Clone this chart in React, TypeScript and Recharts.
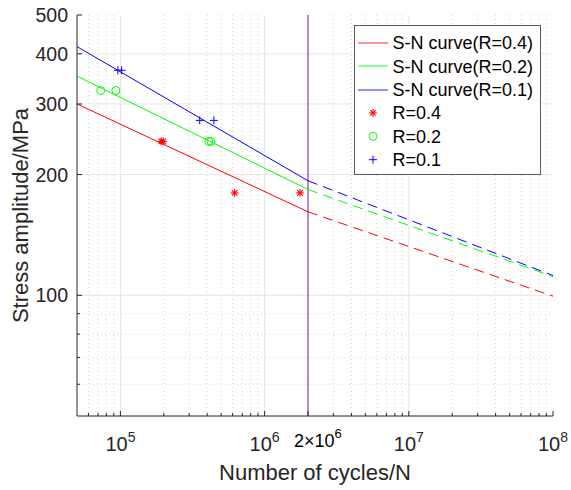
import React from 'react';
import { ComposedChart, Line, Scatter, XAxis, YAxis, ReferenceLine, Legend, Label } from 'recharts';

const X_DOMAIN = [5e4, 1e8];
const Y_DOMAIN = [50, 500];
const X_MAJOR_TICKS = [1e5, 1e6, 2e6, 1e7, 1e8];
const X_MAJOR_LABELS = [['10', '5'], ['10', '6'], ['2×10', '6'], ['10', '7'], ['10', '8']];
const X_MINOR_TICKS = [6e4, 7e4, 8e4, 9e4, 2e5, 3e5, 4e5, 5e5, 6e5, 7e5, 8e5, 9e5, 3e6, 4e6, 5e6, 6e6, 7e6, 8e6, 9e6, 2e7, 3e7, 4e7, 5e7, 6e7, 7e7, 8e7, 9e7];
const Y_MAJOR_TICKS = [100, 200, 300, 400, 500];
const Y_MINOR_TICKS = [60, 70, 80, 90];
const X_GRID_MAJOR = [1e5, 1e6, 1e7];
const X_GRID_MINOR = X_MINOR_TICKS;
const Y_GRID_MAJOR = [100, 200, 300, 400];
const Y_GRID_MINOR = [60, 70, 80, 90];
const FATIGUE_LIMIT_N = 2e6;

const curveR04Solid = [{ x: 5e4, y: 300 }, { x: 2e6, y: 161.5 }];
const curveR04Dashed = [{ x: 2e6, y: 161.5 }, { x: 1e8, y: 99.5 }];
const curveR02Solid = [{ x: 5e4, y: 352 }, { x: 2e6, y: 183.6 }];
const curveR02Dashed = [{ x: 2e6, y: 183.6 }, { x: 1e8, y: 111.3 }];
const curveR01Solid = [{ x: 5e4, y: 417 }, { x: 2e6, y: 193 }];
const curveR01Dashed = [{ x: 2e6, y: 193 }, { x: 1e8, y: 112 }];

const testR04 = [{ x: 1.92e5, y: 242 }, { x: 1.98e5, y: 242 }, { x: 6.2e5, y: 180 }, { x: 1.76e6, y: 180 }];
const testR02 = [{ x: 7.3e4, y: 324 }, { x: 9.3e4, y: 324 }, { x: 4.1e5, y: 242 }, { x: 4.25e5, y: 242 }];
const testR01 = [{ x: 9.6e4, y: 364 }, { x: 1.02e5, y: 364 }, { x: 3.55e5, y: 273 }, { x: 4.45e5, y: 273 }];

const LEGEND_LABELS = ['S-N curve(R=0.4)', 'S-N curve(R=0.2)', 'S-N curve(R=0.1)', 'R=0.4', 'R=0.2', 'R=0.1'];

const RED = '#ff0000';
const GREEN = '#00ff00';
const BLUE = '#0000ff';
const PURPLE = '#9933b3';
const AX = '#262626';
const FONT = '"Liberation Sans", Arial, sans-serif';

const X_TICKS = [...X_MINOR_TICKS, ...X_MAJOR_TICKS].sort((a, b) => a - b);
const Y_TICKS = [...Y_MINOR_TICKS, ...Y_MAJOR_TICKS].sort((a, b) => a - b);

const StarShape = (p: any) => {
  const { cx, cy } = p;
  const s = 3.8, d = 2.8;
  return (
    <g stroke={RED} strokeWidth={1.1}>
      <line x1={cx - s} x2={cx + s} y1={cy} y2={cy} />
      <line x1={cx} x2={cx} y1={cy - s} y2={cy + s} />
      <line x1={cx - d} x2={cx + d} y1={cy - d} y2={cy + d} />
      <line x1={cx - d} x2={cx + d} y1={cy + d} y2={cy - d} />
    </g>
  );
};
const CircleShape = (p: any) => <circle cx={p.cx} cy={p.cy} r={4} fill="none" stroke={GREEN} strokeWidth={1} />;
const PlusShape = (p: any) => {
  const { cx, cy } = p;
  const s = 4;
  return (
    <g stroke={BLUE} strokeWidth={1}>
      <line x1={cx - s} x2={cx + s} y1={cy} y2={cy} />
      <line x1={cx} x2={cx} y1={cy - s} y2={cy + s} />
    </g>
  );
};

const BottomTick = (props: any) => {
  const { x, y, payload } = props;
  const idx = X_MAJOR_TICKS.indexOf(payload.value);
  const major = idx >= 0;
  const len = major ? 5 : 3;
  let label = null;
  if (major) {
    const [base, exp] = X_MAJOR_LABELS[idx];
    if (base === '10') {
      label = (
        <text x={x} y={y + 35} textAnchor="middle" fill={AX} fontFamily={FONT}>
          <tspan fontSize={20}>{base}</tspan>
          <tspan fontSize={14} dy={-9}>{exp}</tspan>
        </text>
      );
    } else {
      label = (
        <text x={x - 14} y={y + 30.5} textAnchor="start" fill="#000" fontFamily={FONT}>
          <tspan fontSize={18}>{base}</tspan>
          <tspan fontSize={13} dy={-8.5}>{exp}</tspan>
        </text>
      );
    }
  }
  return (
    <g>
      <line x1={x} x2={x} y1={y} y2={y - len} stroke={AX} strokeWidth={1} />
      {label}
    </g>
  );
};

const TopTick = (props: any) => {
  const { x, y, payload } = props;
  const len = X_MAJOR_TICKS.indexOf(payload.value) >= 0 ? 5 : 3;
  return <line x1={x} x2={x} y1={y} y2={y + len} stroke={AX} strokeWidth={1} />;
};

const LeftTick = (props: any) => {
  const { x, y, payload } = props;
  const major = Y_MAJOR_TICKS.indexOf(payload.value) >= 0;
  const len = major ? 5 : 3;
  return (
    <g>
      <line x1={x} x2={x + len} y1={y} y2={y} stroke={AX} strokeWidth={1} />
      {major && (
        <text x={x - 9} y={y + 7} textAnchor="end" fontSize={19.5} fill={AX} fontFamily={FONT}>
          {payload.value}
        </text>
      )}
    </g>
  );
};

const RightTick = (props: any) => {
  const { x, y, payload } = props;
  const len = Y_MAJOR_TICKS.indexOf(payload.value) >= 0 ? 5 : 3;
  return <line x1={x} x2={x - len} y1={y} y2={y} stroke={AX} strokeWidth={1} />;
};

const LegendBox = () => {
  const rowY = (i: number) => 17.7 + i * 23.4;
  const colors = [RED, GREEN, BLUE];
  const shapes = [StarShape, CircleShape, PlusShape];
  return (
    <svg width={188} height={151} style={{ display: 'block' }}>
      <rect x={0.5} y={0.5} width={186} height={149} fill="#fff" stroke="#5a5a5a" strokeWidth={1} />
      {LEGEND_LABELS.map((lab, i) => {
        const cy = rowY(i);
        const ly = Math.round(cy);
        const marker = i < 3
          ? <line x1={4} x2={34} y1={ly} y2={ly} stroke={colors[i]} strokeWidth={1} strokeOpacity={0.85} />
          : shapes[i - 3]({ cx: 19, cy });
        return (
          <g key={lab}>
            {marker}
            <text x={38.5} y={cy + 6.5} fontSize={18} fill="#000" fontFamily={FONT}>{lab}</text>
          </g>
        );
      })}
    </svg>
  );
};

export default function App() {
  return (
    <div style={{ position: 'absolute', left: 0, top: 0, width: 571, height: 490, background: '#fff' }}>
      <ComposedChart width={571} height={490} margin={{ top: 15, right: 18, bottom: 0, left: 0 }}>
        <XAxis
          xAxisId="bottom"
          dataKey="x"
          type="number"
          scale="log"
          domain={X_DOMAIN}
          allowDataOverflow
          ticks={X_TICKS}
          interval={0}
          height={74}
          tickSize={0}
          tickMargin={0}
          tickLine={false}
          axisLine={{ stroke: AX, strokeWidth: 1 }}
          tick={<BottomTick />}
        >
          <Label
            content={(p: any) => (
              <text x={p.viewBox.x + p.viewBox.width / 2} y={p.viewBox.y + 64} textAnchor="middle" fontSize={22} fill={AX} fontFamily={FONT}>
                Number of cycles/N
              </text>
            )}
          />
        </XAxis>
        <XAxis
          xAxisId="top"
          orientation="top"
          dataKey="x"
          type="number"
          scale="log"
          domain={X_DOMAIN}
          allowDataOverflow
          ticks={X_TICKS}
          interval={0}
          height={0}
          tickSize={0}
          tickMargin={0}
          tickLine={false}
          axisLine={{ stroke: AX, strokeWidth: 1 }}
          tick={<TopTick />}
        />
        <YAxis
          yAxisId="left"
          dataKey="y"
          type="number"
          scale="log"
          domain={Y_DOMAIN}
          allowDataOverflow
          ticks={Y_TICKS}
          interval={0}
          width={77}
          tickSize={0}
          tickMargin={0}
          tickLine={false}
          axisLine={{ stroke: AX, strokeWidth: 1 }}
          tick={<LeftTick />}
        >
          <Label
            content={(p: any) => {
              const cy = p.viewBox.y + p.viewBox.height / 2;
              return (
                <text transform={`translate(28, ${cy}) rotate(-90)`} textAnchor="middle" fontSize={22} fill={AX} fontFamily={FONT}>
                  Stress amplitude/MPa
                </text>
              );
            }}
          />
        </YAxis>
        <YAxis
          yAxisId="right"
          orientation="right"
          dataKey="y"
          type="number"
          scale="log"
          domain={Y_DOMAIN}
          allowDataOverflow
          ticks={Y_TICKS}
          interval={0}
          width={0}
          tickSize={0}
          tickMargin={0}
          tickLine={false}
          axisLine={{ stroke: AX, strokeWidth: 1 }}
          tick={<RightTick />}
        />

        {X_GRID_MINOR.map((v) => (
          <ReferenceLine key={'xm' + v} x={v} xAxisId="bottom" yAxisId="left" stroke="#d4d4d4" strokeDasharray="1 3" strokeWidth={1} />
        ))}
        {Y_GRID_MINOR.map((v) => (
          <ReferenceLine key={'ym' + v} y={v} xAxisId="bottom" yAxisId="left" stroke="#d4d4d4" strokeDasharray="1 3" strokeWidth={1} />
        ))}
        {X_GRID_MAJOR.map((v) => (
          <ReferenceLine key={'xM' + v} x={v} xAxisId="bottom" yAxisId="left" stroke="#e6e6e6" strokeWidth={1} />
        ))}
        {Y_GRID_MAJOR.map((v) => (
          <ReferenceLine key={'yM' + v} y={v} xAxisId="bottom" yAxisId="left" stroke="#e6e6e6" strokeWidth={1} />
        ))}
        <ReferenceLine x={FATIGUE_LIMIT_N} xAxisId="bottom" yAxisId="left" stroke={PURPLE} strokeWidth={1.2} />

        <Line xAxisId="bottom" yAxisId="left" data={curveR04Solid} dataKey="y" type="linear" stroke={RED} strokeWidth={1} dot={false} isAnimationActive={false} />
        <Line xAxisId="bottom" yAxisId="left" data={curveR02Solid} dataKey="y" type="linear" stroke={GREEN} strokeWidth={1} dot={false} isAnimationActive={false} />
        <Line xAxisId="bottom" yAxisId="left" data={curveR01Solid} dataKey="y" type="linear" stroke={BLUE} strokeWidth={1} dot={false} isAnimationActive={false} />
        <Line xAxisId="bottom" yAxisId="left" data={curveR04Dashed} dataKey="y" type="linear" stroke={RED} strokeWidth={1} strokeDasharray="10 6" dot={false} isAnimationActive={false} />
        <Line xAxisId="bottom" yAxisId="left" data={curveR02Dashed} dataKey="y" type="linear" stroke={GREEN} strokeWidth={1} strokeDasharray="10 6" dot={false} isAnimationActive={false} />
        <Line xAxisId="bottom" yAxisId="left" data={curveR01Dashed} dataKey="y" type="linear" stroke={BLUE} strokeWidth={1} strokeDasharray="10 6" dot={false} isAnimationActive={false} />

        <Scatter xAxisId="bottom" yAxisId="left" data={testR04} dataKey="y" shape={StarShape} isAnimationActive={false} />
        <Scatter xAxisId="bottom" yAxisId="left" data={testR02} dataKey="y" shape={CircleShape} isAnimationActive={false} />
        <Scatter xAxisId="bottom" yAxisId="left" data={testR01} dataKey="y" shape={PlusShape} isAnimationActive={false} />

        <Legend
          layout="vertical"
          align="center"
          verticalAlign="middle"
          content={() => <LegendBox />}
          wrapperStyle={{ position: 'absolute', left: 354, top: 25, width: 188, height: 151 }}
        />
      </ComposedChart>
    </div>
  );
}
